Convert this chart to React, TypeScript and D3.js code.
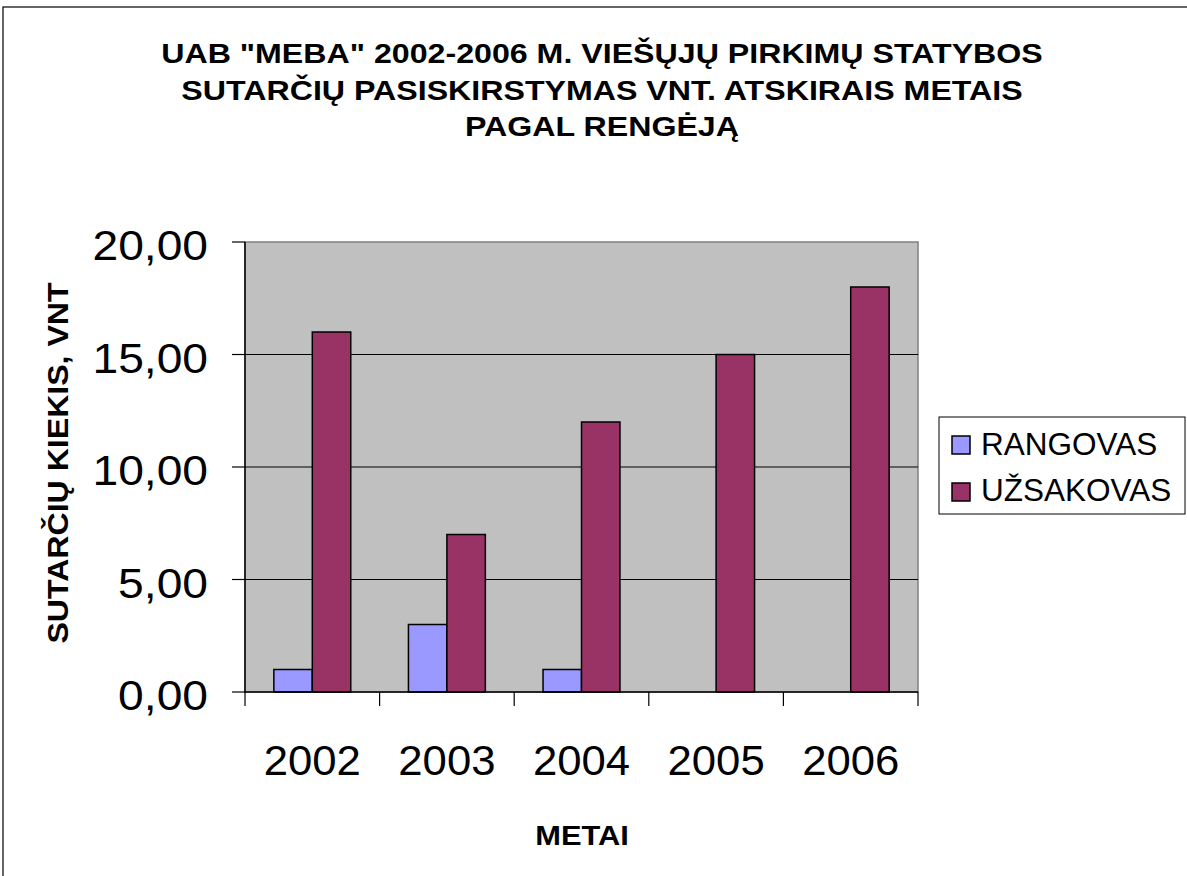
import React from "react";
import * as d3 from "d3";

const years = ["2002", "2003", "2004", "2005", "2006"];
const rangovas = [1, 3, 1, 0, 0];
const uzsakovas = [16, 7, 12, 15, 18];
const seriesNames = ["RANGOVAS", "UŽSAKOVAS"];
const seriesColors = ["#9999FF", "#993366"];
const yTicks = [0, 5, 10, 15, 20];
const titleLines = [
  'UAB "MEBA" 2002-2006 M. VIEŠŲJŲ PIRKIMŲ STATYBOS',
  "SUTARČIŲ PASISKIRSTYMAS VNT. ATSKIRAIS METAIS",
  "PAGAL RENGĖJĄ",
];

export default function App() {
  const W = 1187, H = 876;
  const left = 245, right = 918, top = 242, bottom = 692;
  const x = d3.scaleBand<string>().domain(years).range([left, right]).padding(0);
  const y = d3.scaleLinear().domain([0, 20]).range([bottom, top]);
  const bw = x.bandwidth() / 3.5;
  const series = [rangovas, uzsakovas];
  const font = "'Liberation Sans', Arial, sans-serif";
  const fmt = (v: number) => v.toFixed(2).replace(".", ",");
  const titleCx = 602;

  return (
    <svg width={W} height={H} style={{ position: "absolute", left: 0, top: 0 }} fontFamily={font}>
      <rect x={0} y={0} width={W} height={H} fill="#fff" />
      <rect x={3} y={7} width={W + 20} height={H + 20} fill="#fff" stroke="#000" strokeWidth={1.2} />
      <g transform={`translate(${titleCx},0) scale(1.149,1)`}>
        {titleLines.map((t, i) => (
          <text key={i} x={0} y={63 + i * 36.7} textAnchor="middle" fontSize={28} fontWeight="bold">{t}</text>
        ))}
      </g>
      <rect x={left} y={top} width={right - left} height={bottom - top} fill="#C0C0C0" stroke="#808080" strokeWidth={1.5} />
      {yTicks.filter(t => t > 0 && t < 20).map(t => (
        <line key={t} x1={left} x2={right} y1={y(t)} y2={y(t)} stroke="#000" strokeWidth={1} />
      ))}
      {years.map((yr, i) =>
        series.map((s, j) => {
          const v = s[i];
          if (v <= 0) return null;
          const cx = x(yr)! + x.bandwidth() / 2;
          const bx = cx - bw + j * bw;
          return (
            <rect key={yr + j} x={bx} y={y(v)} width={bw} height={y(0) - y(v)} fill={seriesColors[j]} stroke="#000" strokeWidth={1.5} />
          );
        })
      )}
      <line x1={left} x2={left} y1={top} y2={bottom + 1} stroke="#000" strokeWidth={1.5} />
      <line x1={left} x2={right} y1={bottom} y2={bottom} stroke="#000" strokeWidth={1.5} />
      {yTicks.map(t => (
        <g key={t}>
          <line x1={left - 13} x2={left} y1={y(t)} y2={y(t)} stroke="#000" strokeWidth={1.2} />
          <g transform={`translate(208,${y(t) + 3}) scale(1.1,1)`}>
            <text x={0} y={0} dy="0.36em" textAnchor="end" fontSize={42}>{fmt(t)}</text>
          </g>
        </g>
      ))}
      {[...years.map(yr => x(yr)!), right].map((px, i) => (
        <line key={i} x1={px} x2={px} y1={bottom} y2={bottom + 14} stroke="#000" strokeWidth={1.2} />
      ))}
      {years.map(yr => (
        <g key={yr} transform={`translate(${x(yr)! + x.bandwidth() / 2},760) scale(1.04,1)`}>
          <text x={0} y={0} dy="0.36em" textAnchor="middle" fontSize={42}>{yr}</text>
        </g>
      ))}
      <g transform={`translate(582,835) scale(1.1,1)`}>
        <text x={0} y={0} dy="0.36em" textAnchor="middle" fontSize={28} fontWeight="bold">METAI</text>
      </g>
      <g transform={`translate(57,463) rotate(-90) scale(1.07,1)`}>
        <text x={0} y={0} dy="0.36em" textAnchor="middle" fontSize={30} fontWeight="bold">SUTARČIŲ KIEKIS, VNT</text>
      </g>
      <rect x={939} y={417} width={246} height={97} fill="#fff" stroke="#000" strokeWidth={1} />
      {seriesNames.map((n, i) => (
        <g key={n}>
          <rect x={952} y={436 + i * 47} width={18} height={18} fill={seriesColors[i]} stroke="#000" strokeWidth={1.5} />
          <text x={981} y={443.5 + i * 46.5} dy="0.36em" fontSize={31.5}>{n}</text>
        </g>
      ))}
    </svg>
  );
}
